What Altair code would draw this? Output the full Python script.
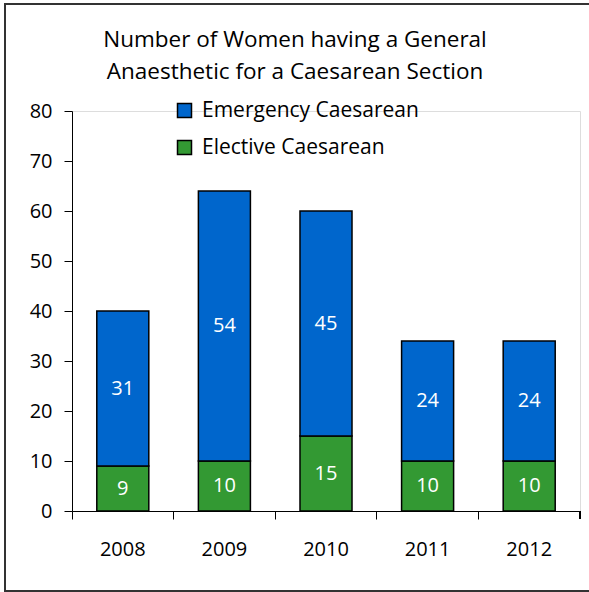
import altair as alt
import pandas as pd

# Women given a general anaesthetic for a Caesarean section, per year
years = ["2008", "2009", "2010", "2011", "2012"]
emergency = [31, 54, 45, 24, 24]
elective = [9, 10, 15, 10, 10]
y_ticks = [0, 10, 20, 30, 40, 50, 60, 70, 80]

series_names = ["Emergency Caesarean", "Elective Caesarean"]
series_colors = ["#0066CC", "#339933"]

rows = []
for i, yr in enumerate(years):
    # elective sits at the bottom of each stack
    rows.append({"year": yr, "type": "Elective Caesarean", "value": elective[i], "order": 0})
    rows.append({"year": yr, "type": "Emergency Caesarean", "value": emergency[i], "order": 1})
df = pd.DataFrame(rows)

FONT = "Open Sans"

x_axis = alt.Axis(
    title=None,
    labelAngle=0,
    labelFontSize=20,
    labelFont=FONT,
    labelColor="black",
    labelPadding=20,
    bandPosition=0,
    ticks=True,
    tickSize=8,
    tickColor="black",
    domainColor="black",
    grid=False,
)
x_scale = alt.Scale(paddingInner=0, paddingOuter=0)

y_axis = alt.Axis(
    title=None,
    values=y_ticks,
    labelFontSize=20,
    labelFont=FONT,
    labelColor="black",
    labelPadding=12,
    tickSize=8,
    tickColor="black",
    domainColor="black",
    grid=False,
)
y_scale = alt.Scale(domain=[0, 80], nice=False)

base = alt.Chart(df).transform_stack(
    stack="value", groupby=["year"], as_=["y0", "y1"], sort=[alt.SortField("order")]
)

bars = base.mark_bar(
    width=alt.RelativeBandSize(0.512), stroke="black", strokeWidth=1.5
).encode(
    x=alt.X("year:N", sort=years, scale=x_scale, axis=x_axis),
    y=alt.Y("y0:Q", scale=y_scale, axis=y_axis),
    y2="y1:Q",
    color=alt.Color(
        "type:N",
        scale=alt.Scale(domain=series_names, range=series_colors),
        legend=alt.Legend(
            title=None,
            orient="none",
            legendX=102,
            legendY=-11,
            direction="vertical",
            symbolType="square",
            symbolSize=196,
            symbolStrokeColor="black",
            symbolStrokeWidth=1.5,
            symbolOpacity=1,
            labelFontSize=21,
            labelFont=FONT,
            labelColor="black",
            labelOffset=7,
            labelLimit=0,
            rowPadding=15,
            padding=0,
        ),
    ),
)

labels = base.transform_calculate(mid="(datum.y0 + datum.y1) / 2").mark_text(
    color="white", fontSize=20, font=FONT, baseline="middle"
).encode(
    x=alt.X("year:N", sort=years, scale=x_scale, axis=x_axis),
    y=alt.Y("mid:Q", scale=y_scale, axis=y_axis),
    text=alt.Text("value:Q"),
)

# closing tick at the right end of the category axis
end_tick = alt.Chart(df).mark_rule(color="black", strokeWidth=1).encode(
    x=alt.value(508), y=alt.value(400), y2=alt.value(408)
)

# outer frame around the whole figure
frame = alt.Chart(df).mark_rect(
    fill=None, stroke="#333333", strokeWidth=2, clip=False
).encode(
    x=alt.value(-67), x2=alt.value(540), y=alt.value(-107), y2=alt.value(480)
)

chart = alt.layer(frame, bars, labels, end_tick).properties(
    width=508,
    height=400,
    autosize=alt.AutoSizeParams(type="none"),
    padding={"left": 72, "top": 111, "right": 9, "bottom": 81},
    title=alt.TitleParams(
        text=["Number of Women having a General", "Anaesthetic for a Caesarean Section"],
        fontSize=22.5,
        font=FONT,
        fontWeight="normal",
        color="black",
        lineHeight=32,
        anchor="middle",
        dx=-31,
        dy=80,
        offset=0,
    ),
).configure_view(stroke=None).configure_axis(grid=False).configure(background="white")

chart.save("out.html", embed_options={"renderer": "svg", "actions": False})
